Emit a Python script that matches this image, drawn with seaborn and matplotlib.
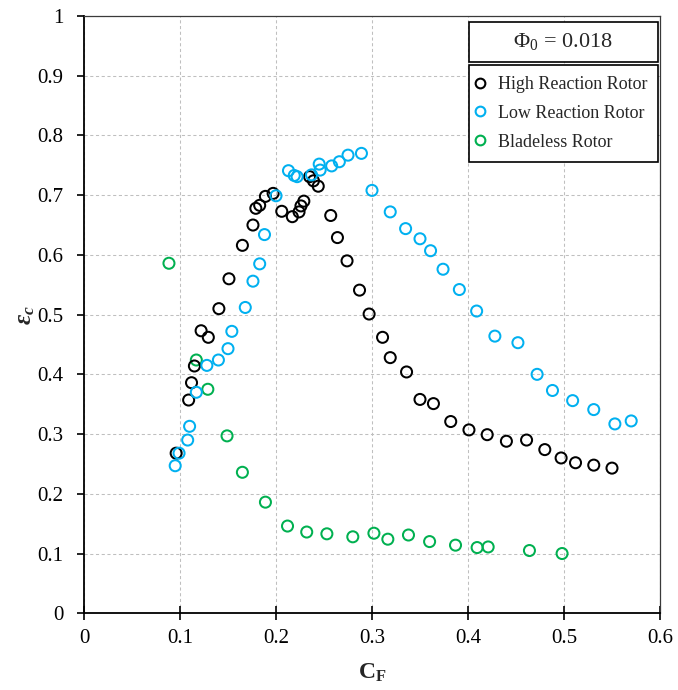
import numpy as np
import pandas as pd
import seaborn as sns
import matplotlib
matplotlib.use("Agg")
import matplotlib.pyplot as plt
from matplotlib.lines import Line2D
from matplotlib.patches import Rectangle
from matplotlib.ticker import FuncFormatter

# ---- measured efficiency vs. flow coefficient ----
high_cf = [0.096, 0.109, 0.112, 0.115, 0.122, 0.1295, 0.1405, 0.151, 0.165, 0.176,
           0.179, 0.183, 0.189, 0.197, 0.206, 0.217, 0.224, 0.226, 0.229, 0.235,
           0.239, 0.244, 0.257, 0.264, 0.274, 0.287, 0.297, 0.311, 0.319, 0.336,
           0.350, 0.364, 0.382, 0.401, 0.420, 0.440, 0.461, 0.480, 0.497, 0.512,
           0.531, 0.550]
high_eps = [0.268, 0.357, 0.386, 0.414, 0.473, 0.462, 0.510, 0.560, 0.616, 0.650,
            0.678, 0.683, 0.698, 0.703, 0.673, 0.664, 0.672, 0.682, 0.690, 0.731,
            0.724, 0.715, 0.666, 0.629, 0.590, 0.541, 0.501, 0.462, 0.428, 0.404,
            0.358, 0.351, 0.321, 0.307, 0.299, 0.288, 0.290, 0.274, 0.260, 0.252,
            0.248, 0.243]

low_cf = [0.095, 0.099, 0.108, 0.110, 0.117, 0.128, 0.140, 0.150, 0.154, 0.168,
          0.176, 0.183, 0.188, 0.200, 0.213, 0.219, 0.222, 0.237, 0.245, 0.246,
          0.258, 0.266, 0.275, 0.289, 0.300, 0.319, 0.335, 0.350, 0.361, 0.374,
          0.391, 0.409, 0.428, 0.452, 0.472, 0.488, 0.509, 0.531, 0.553, 0.570]
low_eps = [0.247, 0.268, 0.290, 0.313, 0.370, 0.415, 0.424, 0.443, 0.472, 0.512,
           0.556, 0.585, 0.634, 0.699, 0.741, 0.733, 0.731, 0.734, 0.752, 0.742,
           0.749, 0.756, 0.767, 0.770, 0.708, 0.672, 0.644, 0.627, 0.607, 0.576,
           0.542, 0.506, 0.464, 0.453, 0.400, 0.373, 0.356, 0.341, 0.317, 0.322]

bladeless_cf = [0.0885, 0.117, 0.129, 0.149, 0.165, 0.189, 0.212, 0.232, 0.253, 0.280,
                0.302, 0.3165, 0.338, 0.360, 0.387, 0.4095, 0.421, 0.464, 0.498]
bladeless_eps = [0.586, 0.424, 0.375, 0.297, 0.236, 0.186, 0.146, 0.136, 0.133, 0.128,
                 0.134, 0.124, 0.131, 0.120, 0.114, 0.110, 0.111, 0.105, 0.100]

rotor_names = ["High Reaction Rotor", "Low Reaction Rotor", "Bladeless Rotor"]
rotor_colors = ["#000000", "#00B0F0", "#00B050"]
x_ticks = [0, 0.1, 0.2, 0.3, 0.4, 0.5, 0.6]
y_ticks = [0, 0.1, 0.2, 0.3, 0.4, 0.5, 0.6, 0.7, 0.8, 0.9, 1.0]
phi0 = 0.018

palette = dict(zip(rotor_names, rotor_colors))

# drawing order: bladeless first, then high reaction, low reaction on top
frames = [
    pd.DataFrame({"CF": bladeless_cf, "eps": bladeless_eps, "rotor": rotor_names[2]}),
    pd.DataFrame({"CF": high_cf, "eps": high_eps, "rotor": rotor_names[0]}),
    pd.DataFrame({"CF": low_cf, "eps": low_eps, "rotor": rotor_names[1]}),
]
df = pd.concat(frames, ignore_index=True)

sns.set_theme(style="white")
plt.rcParams["font.family"] = ["Liberation Serif", "DejaVu Serif"]
plt.rcParams["mathtext.fontset"] = "custom"
plt.rcParams["mathtext.rm"] = "Liberation Serif"
plt.rcParams["mathtext.it"] = "Liberation Serif:italic:bold"
plt.rcParams["mathtext.bf"] = "Liberation Serif:bold"

W, H = 678, 690
fig = plt.figure(figsize=(W / 100, H / 100), dpi=100)
ax = fig.add_axes([84 / W, 1 - 613.25 / H, 576 / W, 597.25 / H])

sns.scatterplot(data=df, x="CF", y="eps", hue="rotor", palette=palette,
                s=63, linewidth=1.45, legend=False, ax=ax, zorder=3)
coll = ax.collections[-1]
fc = coll.get_facecolors()
coll.set_edgecolors(fc)
coll.set_facecolors("none")

ax.set_xlim(0, 0.6)
ax.set_ylim(0, 1)
ax.set_xticks(x_ticks)
ax.set_yticks(y_ticks)
fmt = FuncFormatter(lambda v, p: f"{v:g}")
ax.xaxis.set_major_formatter(fmt)
ax.yaxis.set_major_formatter(fmt)

ax.grid(True, color="#bfbfbf", linestyle=(0, (3, 2.5)), linewidth=0.75)
ax.set_axisbelow(True)

ax.tick_params(axis="y", left=True, direction="out", length=5, width=1.2,
               pad=10, labelsize=15, colors="black")
ax.tick_params(axis="x", bottom=True, direction="inout", length=10, width=1.2,
               pad=6, labelsize=15, colors="black")

for side in ("left", "bottom"):
    ax.spines[side].set_color("black")
    ax.spines[side].set_linewidth(1.3)
for side in ("top", "right"):
    ax.spines[side].set_color("#3a3a3a")
    ax.spines[side].set_linewidth(0.9)

ax.set_xlabel(r"$\mathbf{C}_\mathbf{F}$", fontsize=17, va="center")
ax.xaxis.set_label_coords(0.5, (613.25 - 673) / 597.25)
ax.set_ylabel(r"$\varepsilon_c$", fontsize=18, va="center")
ax.yaxis.set_label_coords((26 - 84) / 576, 0.5)

handles = [Line2D([], [], marker="o", ls="", mfc="none", mec=palette[n],
                  mew=1.5, ms=7, label=n) for n in rotor_names]
leg = ax.legend(handles=handles, loc="upper left",
                bbox_to_anchor=(469 / W, 1 - 157 / H, (657.7 - 469) / W, 92 / H),
                bbox_transform=fig.transFigure, mode="expand", borderaxespad=0,
                frameon=True, fancybox=False, edgecolor="black", framealpha=1,
                fontsize=13, handlelength=0, handletextpad=1.0,
                labelspacing=0.66, borderpad=0.6)
leg.get_frame().set_linewidth(1.2)

fig.add_artist(Rectangle((469 / W, 1 - 61.7 / H), (657.7 - 469) / W, 40 / H,
                         transform=fig.transFigure, facecolor="white",
                         edgecolor="black", linewidth=1.2, zorder=5))
fig.text(563 / W, 1 - 42 / H, rf"$\Phi_0$ = {phi0}", ha="center", va="center",
         fontsize=16, zorder=6)

fig.savefig("out.png", dpi=100)
